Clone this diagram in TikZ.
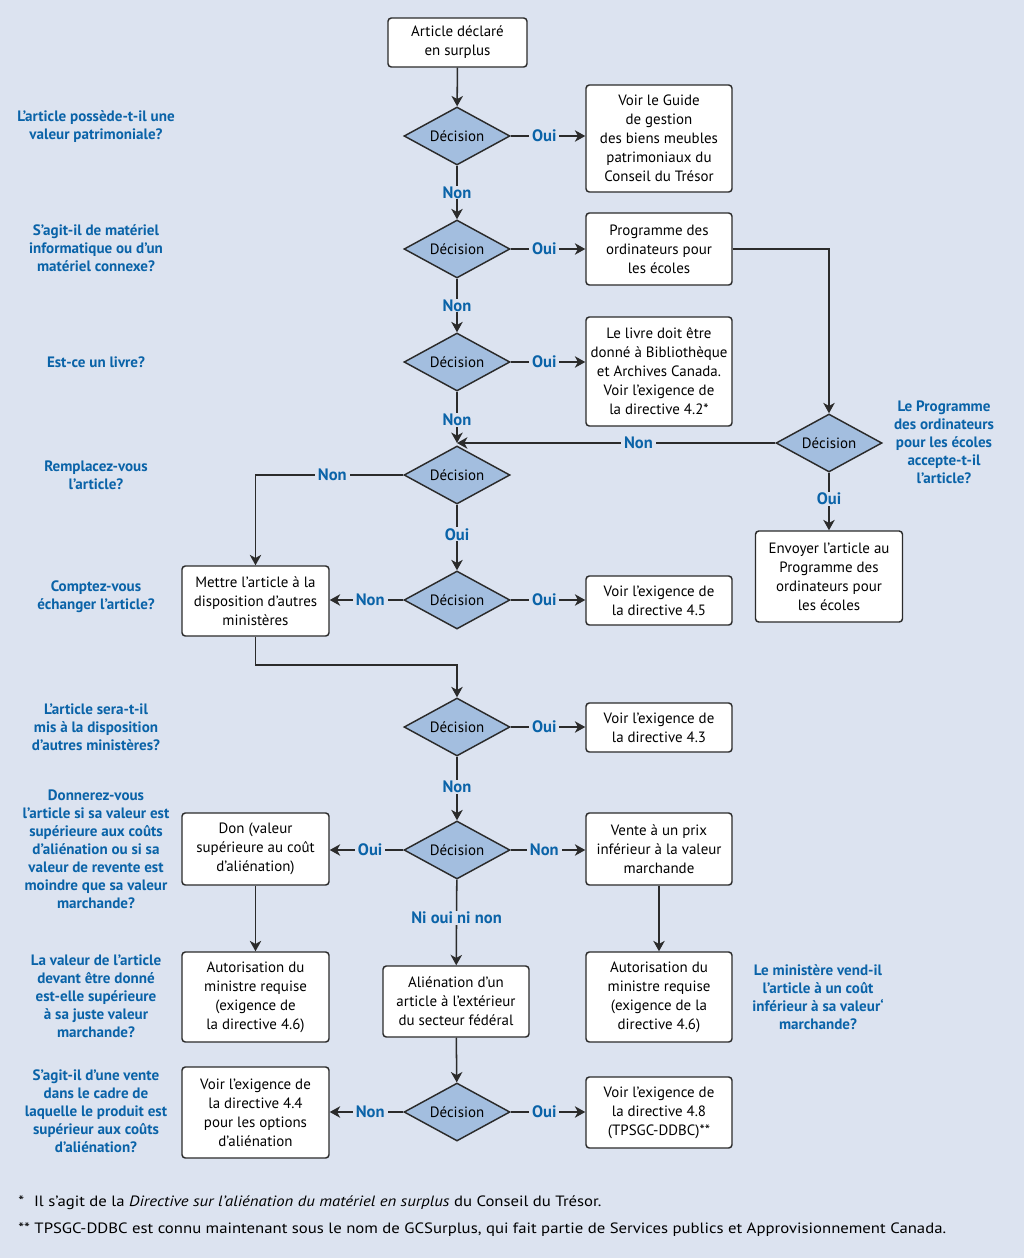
\documentclass[tikz,border=0pt]{standalone}
\usepackage{fontspec}
\setmainfont{PT Sans}
\newfontfamily\footfont[FakeStretch=1.12]{PT Sans}
\usetikzlibrary{shapes.geometric,arrows.meta}
\newlength\pxu
\setlength\pxu{0.75pt}
\definecolor{bgc}{HTML}{DCE3F0}
\definecolor{qblue}{HTML}{0A63A8}
\definecolor{decfill}{HTML}{A3BEDF}
\definecolor{linec}{HTML}{2B2B2B}
\tikzset{
  box/.style={draw=linec, line width=1.1pt, rounded corners=2.5pt, fill=white, align=center, inner sep=0pt,
    minimum width=146\pxu, font=\fontsize{11.2}{14.25}\selectfont},
  dec/.style={diamond, aspect=1.8, draw=linec, fill=decfill, line width=1.1pt, inner sep=0pt,
    minimum width=106\pxu, minimum height=58\pxu, font=\fontsize{11.2}{14.25}\selectfont},
  qtext/.style={text=qblue, align=center, font=\fontsize{11.3}{13.5}\selectfont\bfseries},
  lab/.style={text=qblue, fill=bgc, inner xsep=3\pxu, inner ysep=1\pxu, font=\fontsize{12.4}{13.5}\selectfont\bfseries},
  arr/.style={draw=linec, line width=1.15pt, -{Stealth[length=7.8pt,width=8.6pt,inset=2.3pt]}},
  foot/.style={anchor=west, inner sep=0pt, font=\footfont\fontsize{11.2}{13}\selectfont}
}
\begin{document}
\begin{tikzpicture}[x=\pxu,y=-\pxu]
\fill[bgc] (0,0) rectangle (1024,1258);
\useasboundingbox (0,0) rectangle (1024,1258);

% main column
\node[box, minimum width=139\pxu, minimum height=49\pxu] (start) at (457.5,42.5) {Article déclaré\\en surplus};
\node[dec] (d1) at (457,136) {Décision};
\node[dec] (d2) at (457,249) {Décision};
\node[dec] (d3) at (457,362) {Décision};
\node[dec] (d4) at (457,475) {Décision};
\node[dec] (d5) at (457,600) {Décision};
\node[dec] (d6) at (457,727) {Décision};
\node[dec] (d7) at (457,850) {Décision};
\node[box, minimum height=71\pxu] (alien) at (456,1001.5) {Aliénation d’un\\article à l’extérieur\\du secteur fédéral};
\node[dec] (d8) at (457,1112) {Décision};

% right column
\node[box, minimum height=107\pxu] (guide) at (659,138.5) {Voir le Guide\\de gestion\\des biens meubles\\patrimoniaux du\\Conseil du Trésor};
\node[box, minimum height=72\pxu] (prog) at (659,249) {Programme des\\ordinateurs pour\\les écoles};
\node[box, minimum height=109\pxu] (livre) at (659,371.5) {Le livre doit être\\donné à Bibliothèque\\et Archives Canada.\\Voir l’exigence de\\la directive 4.2*};
\node[box, minimum height=49\pxu] (r45) at (659,600.5) {Voir l’exigence de\\la directive 4.5};
\node[box, minimum height=49\pxu] (r43) at (659,727.5) {Voir l’exigence de\\la directive 4.3};
\node[box, minimum height=72\pxu] (vente) at (659,849) {Vente à un prix\\inférieur à la valeur\\marchande};
\node[box, minimum height=90\pxu] (autr) at (659,997) {Autorisation du\\ministre requise\\(exigence de la\\directive 4.6)};
\node[box, minimum height=71\pxu] (r48) at (659,1112.5) {Voir l’exigence de\\la directive 4.8\\(TPSGC-DDBC)**};

% far right
\node[dec] (rd) at (829,443) {Décision};
\node[box, minimum width=147\pxu, minimum height=91\pxu] (envoi) at (829,576.5) {Envoyer l’article au\\Programme des\\ordinateurs pour\\les écoles};

% left column
\node[box, minimum width=147\pxu, minimum height=70\pxu] (mettre) at (255.5,601) {Mettre l’article à la\\disposition d’autres\\ministères};
\node[box, minimum width=147\pxu, minimum height=72\pxu] (don) at (255.5,849) {Don (valeur\\supérieure au coût\\d’aliénation)};
\node[box, minimum width=147\pxu, minimum height=90\pxu] (autl) at (255.5,997) {Autorisation du\\ministre requise\\(exigence de\\la directive 4.6)};
\node[box, minimum width=147\pxu, minimum height=91\pxu] (r44) at (255.5,1112.5) {Voir l’exigence de\\la directive 4.4\\pour les options\\d’aliénation};

% questions
\node[qtext] (q1) at (96,127) {L’article possède-t-il une\\valeur patrimoniale?};
\node[qtext] (q2) at (96,248) {S’agit-il de matériel\\informatique ou d’un\\matériel connexe?};
\node[qtext] (q3) at (96,362) {Est-ce un livre?};
\node[qtext] (q4) at (96,475) {Remplacez-vous\\l’article?};
\node[qtext] (q5) at (96,597) {Comptez-vous\\échanger l’article?};
\node[qtext] (q6) at (96,727) {L’article sera-t-il\\mis à la disposition\\d’autres ministères?};
\node[qtext] (q7) at (96,849) {Donnerez-vous\\l’article si sa valeur est\\supérieure aux coûts\\d’aliénation ou si sa\\valeur de revente est\\moindre que sa valeur\\marchande?};
\node[qtext] (q8) at (96,996) {La valeur de l’article\\devant être donné\\est-elle supérieure\\à sa juste valeur\\marchande?};
\node[qtext] (q9) at (96,1111) {S’agit-il d’une vente\\dans le cadre de\\laquelle le produit est\\supérieur aux coûts\\d’aliénation?};
\node[qtext] (q10) at (944,442) {Le Programme\\des ordinateurs\\pour les écoles\\accepte-t-il\\l’article?};
\node[qtext] (q11) at (818,997) {Le ministère vend-il\\l’article à un coût\\inférieur à sa valeur`\\marchande?};

% connectors
\draw[arr] (start) -- (d1);
\draw[arr] (d1) -- node[lab, pos=0.45] {Oui} (guide.west |- d1);
\draw[arr] (d1) -- node[lab] {Non} (d2);
\draw[arr] (d2) -- node[lab, pos=0.45] {Oui} (prog.west |- d2);
\draw[arr] (prog.east) -- (prog.east -| rd.north) -- (rd.north);
\draw[arr] (d2) -- node[lab] {Non} (d3);
\draw[arr] (d3) -- node[lab, pos=0.45] {Oui} (livre.west |- d3);
\coordinate (j) at (rd.west -| d4.north);
\draw[arr] (d3) -- node[lab, pos=0.55] {Non} (j);
\draw[arr] (rd.west) -- node[lab, pos=0.43] {Non} (j);
\draw[arr] (rd) -- node[lab, pos=0.45] {Oui} (envoi);
\draw[arr] (d4.west) -- node[lab, pos=0.48] {Non} (d4.west -| mettre.north) -- (mettre.north);
\draw[arr] (d4) -- node[lab, pos=0.45] {Oui} (d5);
\draw[arr] (d5) -- node[lab, pos=0.45] {Oui} (r45.west |- d5);
\draw[arr] (d5) -- node[lab, pos=0.45] {Non} (mettre.east |- d5);
\coordinate (m1) at (255.5,665);
\draw[arr] (mettre.south) -- (m1) -- (m1 -| d6.north) -- (d6.north);
\draw[arr] (d6) -- node[lab, pos=0.45] {Oui} (r43.west |- d6);
\draw[arr] (d6) -- node[lab, pos=0.47] {Non} (d7);
\draw[arr] (d7) -- node[lab, pos=0.45] {Oui} (don.east |- d7);
\draw[arr] (d7) -- node[lab, pos=0.45] {Non} (vente.west |- d7);
\draw[arr] (d7) -- node[lab, pos=0.45] {Ni oui ni non} (alien);
\draw[arr] (don) -- (autl);
\draw[arr] (vente) -- (autr);
\draw[arr] (alien) -- (d8);
\draw[arr] (d8) -- node[lab, pos=0.45] {Non} (r44.east |- d8);
\draw[arr] (d8) -- node[lab, pos=0.45] {Oui} (r48.west |- d8);

% footnotes
\node[foot] (f1) at (18,1203) {*\hspace{10\pxu}Il s’agit de la \textit{Directive sur l’aliénation du matériel en surplus} du Conseil du Trésor.};
\node[foot] (f2) at (18,1230) {** TPSGC-DDBC est connu maintenant sous le nom de GCSurplus, qui fait partie de Services publics et Approvisionnement Canada.};
\end{tikzpicture}
\end{document}
